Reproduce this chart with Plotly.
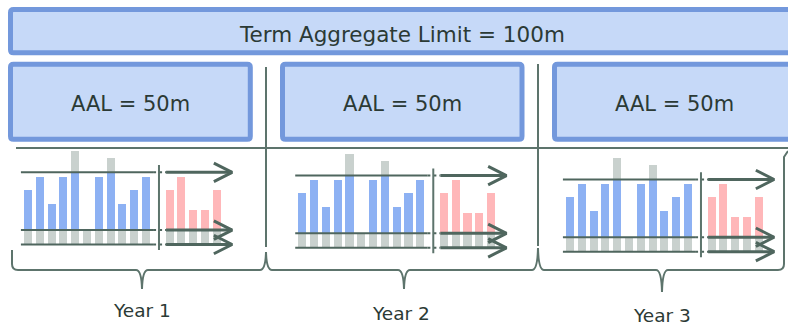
import plotly.graph_objects as go

W, H = 788, 326

# ---------------- data ----------------
year_labels = ["Year 1", "Year 2", "Year 3"]
term_label = "Term Aggregate Limit = 100m"
aal_labels = ["AAL = 50m", "AAL = 50m", "AAL = 50m"]

retained_slots = [0, 1, 2, 3, 4, 5, 6, 7, 8, 9, 10]
retained_losses = [38, 47, 28, 47, 65, 10, 47, 60, 28, 38, 47]
ceded_slots = [12, 13, 14, 15, 16]
ceded_losses = [38, 47, 24, 24, 38]
deductible = 10
occ_limit = 50

# ---------------- styling / geometry ----------------
BOX_FILL = "#c6d9f8"
BOX_LINE = "#7398dc"
LINE_COL = "#4f665e"
SEP_COL = "#5d746c"
TXT_COL = "#2b3a35"
BLUE = "#8db1f3"
GRAY = "#c9d1ce"
RED = "#ffb7b9"
FONT = "DejaVu Sans"

panel_dx = [0, 274.3, 542]
panel_dy = [0, 3.3, 7.2]
SLOT_PX = 11.8
UNIT_PX = 1.444
X_RANGE = [-1.5, 18]
Y_RANGE = [-8, 72]
BAR_W = 0.68

fig = go.Figure()
# anchor trace for the pixel-space axes
fig.add_trace(go.Scatter(x=[0], y=[0], mode="markers", marker=dict(opacity=0),
                         hoverinfo="skip", showlegend=False, xaxis="x", yaxis="y"))

layout_axes = {}
for i in range(3):
    xa = "x%d" % (i + 2)
    ya = "y%d" % (i + 2)
    x0 = 28 + panel_dx[i]
    base = 244.5 + panel_dy[i]
    xd = [(x0 + X_RANGE[0] * SLOT_PX) / W, (x0 + X_RANGE[1] * SLOT_PX) / W]
    yd = [1 - (base - Y_RANGE[0] * UNIT_PX) / H, 1 - (base - Y_RANGE[1] * UNIT_PX) / H]
    layout_axes["xaxis%d" % (i + 2)] = dict(domain=xd, range=X_RANGE, visible=False,
                                            anchor=ya, fixedrange=True)
    layout_axes["yaxis%d" % (i + 2)] = dict(domain=yd, range=Y_RANGE, visible=False,
                                            anchor=xa, fixedrange=True)

    all_slots = retained_slots + ceded_slots
    all_losses = retained_losses + ceded_losses
    # full loss (gray), then layer portions on top
    fig.add_trace(go.Bar(x=all_slots, y=all_losses, base=0, width=BAR_W,
                         marker=dict(color=GRAY, line=dict(width=0)),
                         xaxis=xa, yaxis=ya, showlegend=False, hoverinfo="skip"))
    fig.add_trace(go.Bar(x=retained_slots,
                         y=[max(0, min(v, occ_limit) - deductible) for v in retained_losses],
                         base=deductible, width=BAR_W,
                         marker=dict(color=BLUE, line=dict(width=0)),
                         xaxis=xa, yaxis=ya, showlegend=False, hoverinfo="skip"))
    fig.add_trace(go.Bar(x=ceded_slots,
                         y=[max(0, min(v, occ_limit) - deductible) for v in ceded_losses],
                         base=deductible, width=BAR_W,
                         marker=dict(color=RED, line=dict(width=0)),
                         xaxis=xa, yaxis=ya, showlegend=False, hoverinfo="skip"))

    levels = [occ_limit, deductible, 0]
    lx, ly = [], []
    dx_, dy_ = [], []
    ax_, ay_ = [], []
    for lv in levels:
        lx += [-0.6, 10.6, None]
        ly += [lv, lv, None]
        dx_ += [10.6, 11.7, None]
        dy_ += [lv, lv, None]
        ax_ += [11.7, 17.3, None, 15.75, 17.3, 15.75, None]
        ay_ += [lv, lv, None, lv + 6.4, lv, lv - 6.4, None]
    fig.add_trace(go.Scatter(x=lx, y=ly, mode="lines", line=dict(color=LINE_COL, width=2),
                             xaxis=xa, yaxis=ya, showlegend=False, hoverinfo="skip"))
    fig.add_trace(go.Scatter(x=dx_, y=dy_, mode="lines",
                             line=dict(color=LINE_COL, width=2, dash="dot"),
                             xaxis=xa, yaxis=ya, showlegend=False, hoverinfo="skip"))
    fig.add_trace(go.Scatter(x=ax_, y=ay_, mode="lines",
                             line=dict(color=LINE_COL, width=3),
                             xaxis=xa, yaxis=ya, showlegend=False, hoverinfo="skip"))
    fig.add_trace(go.Scatter(x=[11.1, 11.1], y=[-3.8, 55], mode="lines",
                             line=dict(color=SEP_COL, width=2),
                             xaxis=xa, yaxis=ya, showlegend=False, hoverinfo="skip"))


def rrect(x0, y0, x1, y1, r=3):
    return ("M %g,%g L %g,%g Q %g,%g %g,%g L %g,%g Q %g,%g %g,%g "
            "L %g,%g Q %g,%g %g,%g L %g,%g Q %g,%g %g,%g Z" % (
                x0 + r, y0, x1 - r, y0, x1, y0, x1, y0 + r,
                x1, y1 - r, x1, y1, x1 - r, y1,
                x0 + r, y1, x0, y1, x0, y1 - r,
                x0, y0 + r, x0, y0, x0 + r, y0))


shapes = []
shapes.append(dict(type="path", xref="x", yref="y", path=rrect(10.5, 9.5, 793.5, 52.7),
                   fillcolor=BOX_FILL, line=dict(color=BOX_LINE, width=5), layer="below"))
aal_boxes = [(10.5, 64.2, 250.3, 139.3), (282.5, 64.2, 522, 139.3), (554.5, 64.2, 793.5, 139.3)]
for b in aal_boxes:
    shapes.append(dict(type="path", xref="x", yref="y", path=rrect(*b),
                       fillcolor=BOX_FILL, line=dict(color=BOX_LINE, width=5), layer="below"))
shapes.append(dict(type="line", xref="x", yref="y", x0=16, x1=788, y0=148, y1=148,
                   line=dict(color=SEP_COL, width=2)))
shapes.append(dict(type="line", xref="x", yref="y", x0=266, x1=266, y0=67, y1=247,
                   line=dict(color=SEP_COL, width=2)))
shapes.append(dict(type="line", xref="x", yref="y", x0=538, x1=538, y0=64, y1=246,
                   line=dict(color=SEP_COL, width=2)))
braces = [
    "M 12,250 L 12,264 Q 12,270 18,270 L 136,270 Q 141.5,270 142,289 Q 142.5,270 148,270 "
    "L 260,270 Q 265.5,270 266,252",
    "M 266,252 Q 266.5,270 272,270 L 398,270 Q 403.5,270 404,289 Q 404.5,270 410,270 "
    "L 532,270 Q 537.5,270 538,248",
    "M 538,248 Q 538.5,270 544,270 L 656,270 Q 661.5,270 662,292 Q 662.5,270 668,270 "
    "L 778,270 Q 784,270 784,264 L 784,157 L 788,151",
]
for p in braces:
    shapes.append(dict(type="path", xref="x", yref="y", path=p,
                       line=dict(color=SEP_COL, width=2)))

annotations = []
annotations.append(dict(x=402, y=34, xref="x", yref="y", text=term_label, showarrow=False,
                        font=dict(family=FONT, size=21.5, color=TXT_COL),
                        xanchor="center", yanchor="middle"))
for cx, lab in zip([130, 402, 674], aal_labels):
    annotations.append(dict(x=cx, y=104, xref="x", yref="y", text=lab, showarrow=False,
                            font=dict(family=FONT, size=21, color=TXT_COL),
                            xanchor="center", yanchor="middle"))
for (cx, cy), lab in zip([(142, 310.5), (401, 313.5), (662, 315)], year_labels):
    annotations.append(dict(x=cx, y=cy, xref="x", yref="y", text=lab, showarrow=False,
                            font=dict(family=FONT, size=18.5, color=TXT_COL),
                            xanchor="center", yanchor="middle"))

fig.update_layout(
    width=W, height=H, autosize=False,
    margin=dict(l=0, r=0, t=0, b=0, pad=0),
    paper_bgcolor="white", plot_bgcolor="rgba(0,0,0,0)",
    barmode="overlay", bargap=0,
    showlegend=False,
    xaxis=dict(range=[0, W], domain=[0, 1], visible=False, fixedrange=True),
    yaxis=dict(range=[H, 0], domain=[0, 1], visible=False, fixedrange=True),
    shapes=shapes, annotations=annotations,
    **layout_axes,
)

fig.write_html("out.html", config=dict(displayModeBar=False, staticPlot=True))
